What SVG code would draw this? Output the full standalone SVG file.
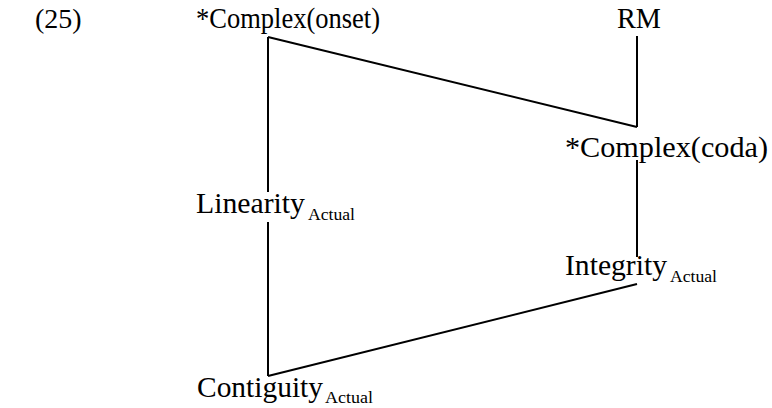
<svg xmlns="http://www.w3.org/2000/svg" width="772" height="408" viewBox="0 0 772 408">
<style>
text{font-family:"Liberation Serif","Times New Roman",serif;fill:#000;font-size:29.5px}
.sub{font-size:17.5px}
.ln{stroke:#000;stroke-width:2;fill:none;stroke-linecap:butt}
</style>
<rect width="772" height="408" fill="#fff"/>
<g id="connectors">
<line class="ln" x1="268" y1="37" x2="268" y2="192"/>
<line class="ln" x1="268" y1="222" x2="268" y2="376"/>
<line class="ln" x1="268" y1="37" x2="637" y2="127"/>
<line class="ln" x1="637" y1="36" x2="637" y2="127"/>
<line class="ln" x1="637" y1="160" x2="637" y2="257"/>
<line class="ln" x1="637" y1="284" x2="268" y2="376"/>
</g>
<g id="label25"><text x="35" y="28" style="font-size:28px">(25)</text></g>
<g id="onset"><text x="196" y="28" textLength="184" lengthAdjust="spacingAndGlyphs">*Complex(onset)</text></g>
<g id="rm"><text x="617" y="28" textLength="44" lengthAdjust="spacingAndGlyphs">RM</text></g>
<g id="coda"><text x="565" y="157" textLength="203" lengthAdjust="spacingAndGlyphs">*Complex(coda)</text></g>
<g id="linearity"><text x="196" y="213" textLength="109" lengthAdjust="spacingAndGlyphs">Linearity</text><text class="sub" x="308" y="220" textLength="47" lengthAdjust="spacingAndGlyphs">Actual</text></g>
<g id="integrity"><text x="565" y="275" textLength="102" lengthAdjust="spacingAndGlyphs">Integrity</text><text class="sub" x="670" y="282" textLength="47" lengthAdjust="spacingAndGlyphs">Actual</text></g>
<g id="contiguity"><text x="197" y="397" textLength="126" lengthAdjust="spacingAndGlyphs">Contiguity</text><text class="sub" x="325" y="403" textLength="48" lengthAdjust="spacingAndGlyphs">Actual</text></g>
</svg>
